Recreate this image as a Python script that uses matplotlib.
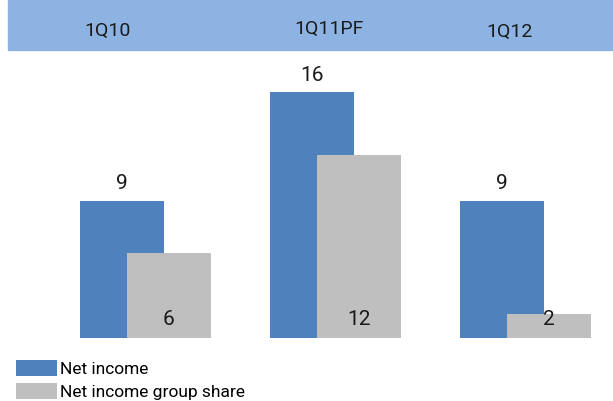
import matplotlib
matplotlib.use("Agg")
import matplotlib.pyplot as plt
from matplotlib.patches import Rectangle, Patch

plt.rcParams['font.family'] = ['Roboto', 'DejaVu Sans']

categories = ["1Q10", "1Q11PF", "1Q12"]
net_income = [9.0, 16.1, 9.0]
group_share = [5.6, 12.0, 1.6]
net_income_labels = ["9", "16", "9"]
group_share_labels = ["6", "12", "2"]
series_names = ["Net income", "Net income group share"]

W, H = 613, 401
fig = plt.figure(figsize=(W / 100, H / 100), dpi=100)

blue = "#4F81BD"
gray = "#BFBFBF"
band = "#8DB3E2"

# axes: baseline at y=338 px from top, 15.25 px per unit
base_px = 338
top_px = 60
ppu = 15.25
ax = fig.add_axes([0, (H - base_px) / H, 1, (base_px - top_px) / H])
ax.set_ylim(0, (base_px - top_px) / ppu)
spacing = 190.0
first = 122.0
ax.set_xlim(-first / spacing, (W - first) / spacing)
ax.axis("off")

bw = 84 / spacing
off = 47 / spacing
xs = list(range(len(categories)))
ax.bar(xs, net_income, width=bw, color=blue, zorder=2)
ax.bar([x + off for x in xs], group_share, width=bw, color=gray, zorder=3)

for x, v, lab in zip(xs, net_income, net_income_labels):
    ax.annotate(lab, (x, v), xytext=(0, 5.5), textcoords="offset points",
                ha="center", va="bottom", fontsize=15, color="#1a1a1a")
for x, lab in zip(xs, group_share_labels):
    ax.annotate(lab, (x + off, 0), xytext=(0, 13), textcoords="offset points",
                ha="center", va="center", fontsize=15, color="#1a1a1a")

# header band
fig.patches.append(Rectangle((8 / W, 1 - 50 / H), 1 - 8 / W, 50 / H,
                             transform=fig.transFigure, color=band, zorder=0))
header_x = [107, 329, 510]
header_y = [31, 29, 32]
for hx, hy, c in zip(header_x, header_y, categories):
    fig.text(hx / W, 1 - hy / H, c, ha="center", va="center",
             fontsize=14, color="#1a1a1a")

handles = [Patch(facecolor=blue, edgecolor="none"), Patch(facecolor=gray, edgecolor="none")]
fig.legend(handles, series_names, loc="lower left",
           bbox_to_anchor=(15 / W, 0), bbox_transform=fig.transFigure,
           frameon=False, fontsize=12.5, handlelength=2.36, handleheight=1.03,
           handletextpad=0.2, labelspacing=0.35, borderpad=0, borderaxespad=0.05)

fig.savefig("out.png", dpi=100)
